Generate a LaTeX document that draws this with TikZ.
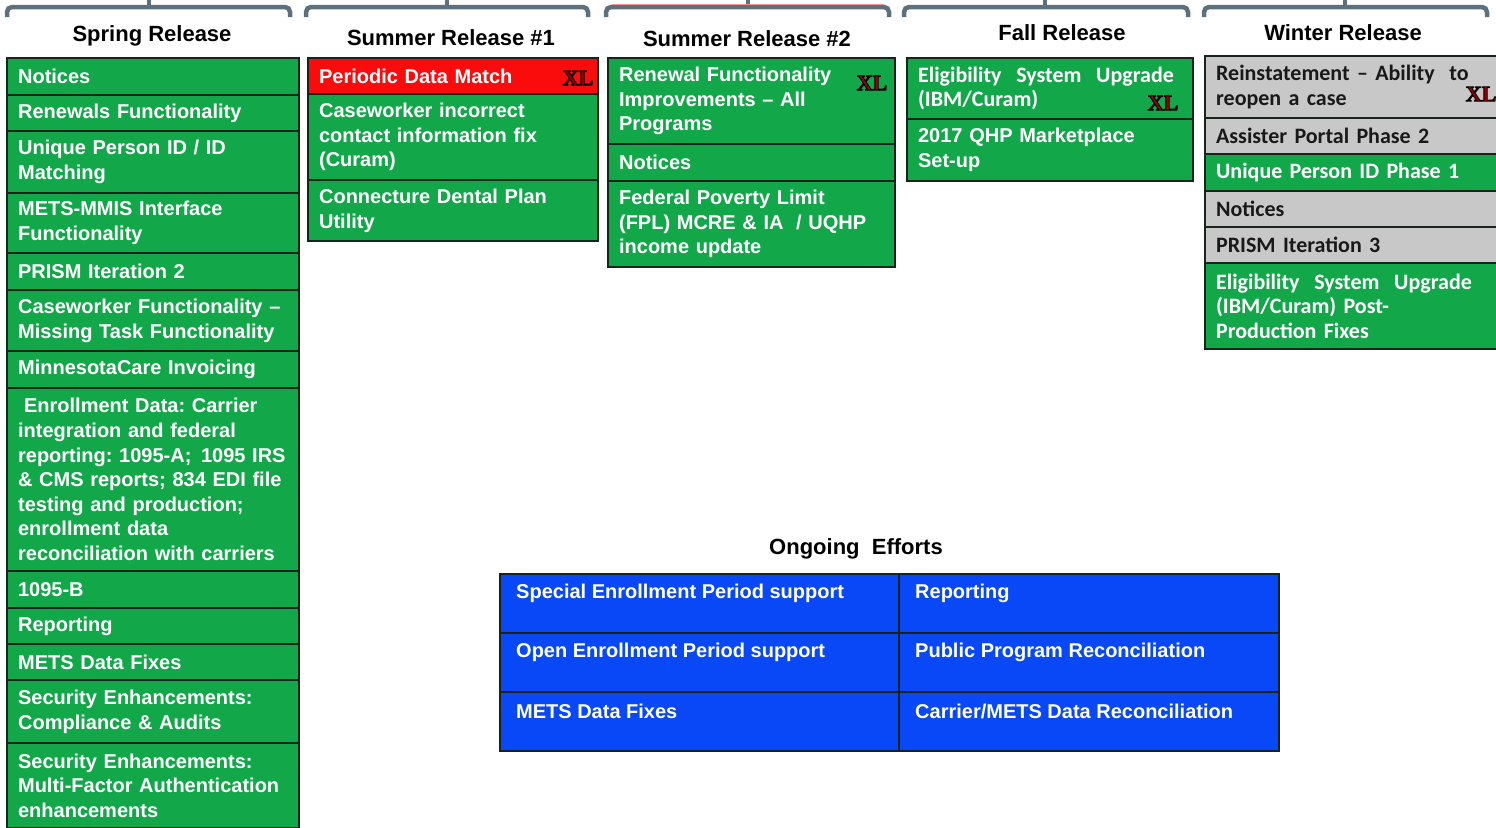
\documentclass[tikz,border=0pt]{standalone}
\usepackage{fontspec}
\setsansfont{Liberation Sans}
\newfontfamily\calib{Carlito}
\newfontfamily\xlfont{Liberation Serif}[BoldFeatures={FakeBold=4}]
\definecolor{mgreen}{RGB}{18,168,74}
\definecolor{mred}{RGB}{250,12,12}
\definecolor{mgray}{RGB}{200,200,200}
\definecolor{mblue}{RGB}{8,72,246}
\definecolor{boxline}{RGB}{22,36,28}
\definecolor{brk}{RGB}{92,112,126}
\definecolor{darktext}{RGB}{25,25,25}
\frenchspacing
\newcommand\boxfont{\frenchspacing\sffamily\bfseries\fontsize{20}{24.6}\selectfont}
\newcommand\calfont{\frenchspacing\calib\bfseries\fontsize{22}{24.6}\selectfont}
\newcommand\xltext{\xlfont\bfseries\fontsize{22}{22}\selectfont%
\special{pdf:bcolor [0.6 0 0] [0 0 0]}XL\special{pdf:ecolor}}
\tikzset{
  box/.style={draw=boxline, line width=2.2pt, anchor=north west, inner xsep=11pt, inner ysep=0pt, align=left, font=\boxfont},
  gbox/.style={box, fill=mgreen, text=white},
  rbox/.style={box, fill=mred, text=white},
  ybox/.style={box, fill=mgray, text=darktext},
  bcell/.style={draw=boxline, line width=2.4pt, fill=mblue, anchor=north west, inner sep=0pt},
  ctext/.style={anchor=west, text=white, font=\boxfont, inner sep=0pt},
  head/.style={font=\sffamily\bfseries\fontsize{22}{24}\selectfont, text=black, inner sep=0pt},
  bracket/.style={draw=brk, line width=4.5pt, rounded corners=5pt},
  xlmark/.style={inner sep=0pt}
}
% \rowbox{name}{style}{x1}{y1}{x2}{y2}{text}
\newcommand\rowbox[7]{%
  \pgfmathsetmacro\rbw{#5-#3}\pgfmathsetmacro\rbh{#6-#4}\pgfmathsetmacro\rbt{#5-#3-22}%
  \node[#2, minimum width=\rbw pt, minimum height=\rbh pt, text width=\rbt pt] (#1) at (#3,#4) {#7};}
\newcommand\cell[6]{%
  \pgfmathsetmacro\rbw{#5-#3}\pgfmathsetmacro\rbh{#6-#4}%
  \node[bcell, minimum width=\rbw pt, minimum height=\rbh pt] (#1) at (#3,#4) {};
  \node[ctext] (#1t) at ([xshift=17pt,yshift=-20pt]#1.north west) {#2};}
\begin{document}
\begin{tikzpicture}[x=1pt,y=-1pt]
\useasboundingbox (0,0) rectangle (1496,827);
% brackets
\foreach \a/\b/\c in {7/290/149, 306/588/447, 606/889/748, 904/1188/1045, 1204/1487/1345}{
  \draw[bracket] (\a,17) -- (\a,7) -- (\b,7) -- (\b,17);
  \draw[draw=brk, line width=4.5pt] (\c,7) -- (\c,-1);
}
\draw[draw=mred!45, line width=1pt] (612,4) -- (884,4);
% headers
\node[head] (hspring) at (152,36) {Spring Release};
\node[head] (hsum1) at (451,38) {Summer Release \#1};
\node[head] (hsum2) at (747,39) {Summer Release \#2};
\node[head] (hfall) at (1062,33) {Fall Release};
\node[head] (hwin) at (1343,33) {Winter Release};
% spring
\rowbox{s1}{gbox}{6}{57}{298}{94}{Notices}
\rowbox{s2}{gbox}{6}{94}{298}{130}{Renewals Functionality}
\rowbox{s3}{gbox}{6}{130}{298}{192}{Unique Person ID / ID\\Matching}
\rowbox{s4}{gbox}{6}{192}{298}{252}{METS-MMIS Interface\\Functionality}
\rowbox{s5}{gbox}{6}{252}{298}{289}{PRISM Iteration 2}
\rowbox{s6}{gbox}{6}{289}{298}{350}{Caseworker Functionality –\\Missing Task Functionality}
\rowbox{s7}{gbox}{6}{350}{298}{387}{MinnesotaCare Invoicing}
\rowbox{s8}{gbox}{6}{387}{298}{570}{\hspace*{6pt}Enrollment Data: Carrier\\integration and federal\\\mbox{reporting: 1095-A;\hspace{0.15em} 1095 IRS}\\\& CMS reports; 834 EDI file\\testing and production;\\enrollment data\\reconciliation with carriers}
\rowbox{s9}{gbox}{6}{570}{298}{607}{1095-B}
\rowbox{s10}{gbox}{6}{607}{298}{643}{Reporting}
\rowbox{s11}{gbox}{6}{643}{298}{679}{METS Data Fixes}
\rowbox{s12}{gbox}{6}{679}{298}{742}{Security Enhancements:\\Compliance \& Audits}
\rowbox{s13}{gbox}{6}{742}{298}{827}{Security Enhancements:\\Multi-Factor Authentication\\enhancements}
% summer 1
\rowbox{u1}{rbox}{307}{57}{597}{93}{Periodic Data Match}
\rowbox{u2}{gbox}{307}{93}{597}{179}{Caseworker incorrect\\contact information fix\\(Curam)}
\rowbox{u3}{gbox}{307}{179}{597}{240}{Connecture Dental Plan\\Utility}
% summer 2
\rowbox{v1}{gbox}{607}{57}{894}{143}{Renewal Functionality\\Improvements – All\\Programs}
\rowbox{v2}{gbox}{607}{143}{894}{180}{Notices}
\rowbox{v3}{gbox}{607}{180}{894}{266}{Federal Poverty Limit\\(FPL) MCRE \& IA\hspace{0.3em} / UQHP\\income update}
% fall
\rowbox{f1}{gbox, font=\calfont}{906}{57}{1192}{118}{Eligibility\ \ System\ \ Upgrade\\(IBM/Curam)}
\rowbox{f2}{gbox}{906}{118}{1192}{180}{2017 QHP Marketplace\\Set-up}
% winter
\rowbox{w1}{ybox, font=\calfont}{1204}{55}{1497}{117}{Reinstatement – Ability\ \ to\\reopen a case}
\rowbox{w2}{ybox, font=\calfont}{1204}{117}{1497}{153}{Assister\ Portal Phase 2}
\rowbox{w3}{gbox, font=\calfont}{1204}{153}{1497}{190}{Unique Person ID Phase 1}
\rowbox{w4}{ybox, font=\calfont}{1204}{190}{1497}{226}{Notices}
\rowbox{w5}{ybox, font=\calfont}{1204}{226}{1497}{262}{PRISM Iteration 3}
\rowbox{w6}{gbox, font=\calfont}{1204}{262}{1497}{348}{Eligibility\ \ System\ \ Upgrade\\(IBM/Curam) Post-\\Production Fixes}
% XL marks
\node[xlmark] (xl1) at (578,78) {\xltext};
\node[xlmark] (xl2) at (872,83) {\xltext};
\node[xlmark] (xl3) at (1163,103) {\xltext};
\node[xlmark] (xl4) at (1481,94) {\xltext};
% ongoing efforts
\node[head] (hong) at (856,549) {Ongoing\ \ Efforts};
\cell{o11}{Special Enrollment Period support}{499}{573}{898}{632}
\cell{o12}{Reporting}{898}{573}{1278}{632}
\cell{o21}{Open Enrollment Period support}{499}{632}{898}{691}
\cell{o22}{Public Program Reconciliation}{898}{632}{1278}{691}
\cell{o31}{METS Data Fixes}{499}{691}{898}{750}
\cell{o32}{Carrier/METS Data Reconciliation}{898}{691}{1278}{750}
\end{tikzpicture}
\end{document}
